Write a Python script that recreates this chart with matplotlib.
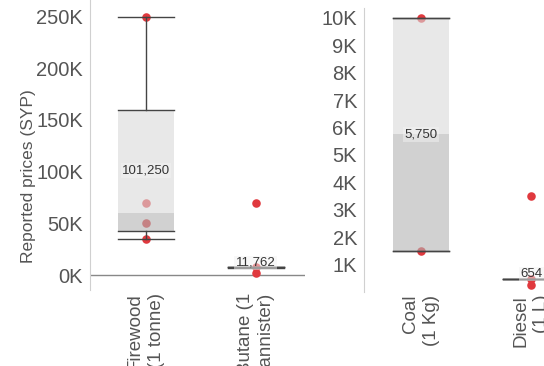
import numpy as np
import matplotlib.pyplot as plt

plt.rcParams['font.family'] = ['Liberation Sans', 'DejaVu Sans']

# left panel
cats_left = ['Firewood\n(1 tonne)', 'Butane (1\ncannister)']
points_left = [[250000, 70000, 50000, 35000], [70000, 8000, 2200]]
whislo_left = [35000, 7200]
q1_left = [42500, 7500]
med_left = [60000, 7750]
q3_left = [160000, 8000]
whishi_left = [250000, 8200]
means_left = [101250, 11762]

# right panel
cats_right = ['Coal\n(1 Kg)', 'Diesel\n(1 L)']
points_right = [[10000, 1500], [3500, 460, 250]]
whislo_right = [1500, 460]
q1_right = [1500, 470]
med_right = [5750, 470]
q3_right = [10000, 475]
whishi_right = [10000, 475]
means_right = [5750, 654]

RED = '#e0393e'
GREY = '#555555'


def panel(ax, cats, points, wlo, q1, med, q3, whi, means, fmt, ticks, ticklabels, ylim):
    w = 0.51
    for i in range(len(cats)):
        ax.scatter([i] * len(points[i]), points[i], s=38, color=RED, zorder=1, linewidths=0)
        ax.bar(i, med[i] - q1[i], bottom=q1[i], width=w, color='#b3b3b3', alpha=0.6, zorder=2)
        ax.bar(i, q3[i] - med[i], bottom=med[i], width=w, color='#dadada', alpha=0.6, zorder=2)
        ax.plot([i, i], [wlo[i], q1[i]], color='#444444', lw=1, zorder=3)
        ax.plot([i, i], [q3[i], whi[i]], color='#444444', lw=1, zorder=3)
        ax.plot([i - w / 2, i + w / 2], [wlo[i], wlo[i]], color='#444444', lw=1, zorder=3)
        ax.plot([i - w / 2, i + w / 2], [whi[i], whi[i]], color='#444444', lw=1, zorder=3)
        ax.plot([i - w / 2, i + w / 2], [q1[i], q1[i]], color='#444444', lw=1, zorder=3)
        ax.plot([i - w / 2, i + w / 2], [q3[i], q3[i]], color='#444444', lw=1, zorder=3)
        ax.text(i, means[i], fmt.format(means[i]), ha='center', va='center', fontsize=9.5,
                color='#333333', zorder=4,
                bbox=dict(boxstyle='square,pad=0.1', fc='#f2f2f2', ec='none', alpha=0.5))
    ax.set_xlim(-0.51, 1.45)
    ax.set_ylim(*ylim)
    ax.set_xticks(range(len(cats)))
    ax.set_xticklabels(cats, rotation=90, fontsize=13.5, color=GREY, va='top', ha='center',
                       multialignment='right', linespacing=1.3)
    ax.set_yticks(ticks)
    ax.set_yticklabels(ticklabels, fontsize=14.5, color=GREY)
    ax.tick_params(length=0, pad=5)
    ax.tick_params(axis='x', pad=2)
    for s in ['top', 'right', 'bottom']:
        ax.spines[s].set_visible(False)
    ax.spines['left'].set_color('#d0d0d0')


fig = plt.figure(figsize=(5.44, 3.66), dpi=100)

ax1 = fig.add_axes([90 / 544, 76 / 366, 215 / 544, 290 / 366])
lt = [0, 50000, 100000, 150000, 200000, 250000]
panel(ax1, cats_left, points_left, whislo_left, q1_left, med_left, q3_left, whishi_left,
      means_left, '{:,}', lt, ['%dK' % (t // 1000) for t in lt], (-14500, 266000))
ax1.axhline(0, color='#888888', lw=1, zorder=0)
ax1.set_ylabel('Reported prices (SYP)', fontsize=12.5, color=GREY)
ax1.yaxis.set_label_coords(-0.25, 0.393)

ax2 = fig.add_axes([364 / 544, 74 / 366, 220 / 544, 284 / 366])
rt = list(range(1000, 11000, 1000))
panel(ax2, cats_right, points_right, whislo_right, q1_right, med_right, q3_right, whishi_right,
      means_right, '{:,}', rt, ['%dK' % (t // 1000) for t in rt], (0, 10360))
ax2.set_xlim(-0.52, 1.48)

fig.savefig('out.png', dpi=100)
